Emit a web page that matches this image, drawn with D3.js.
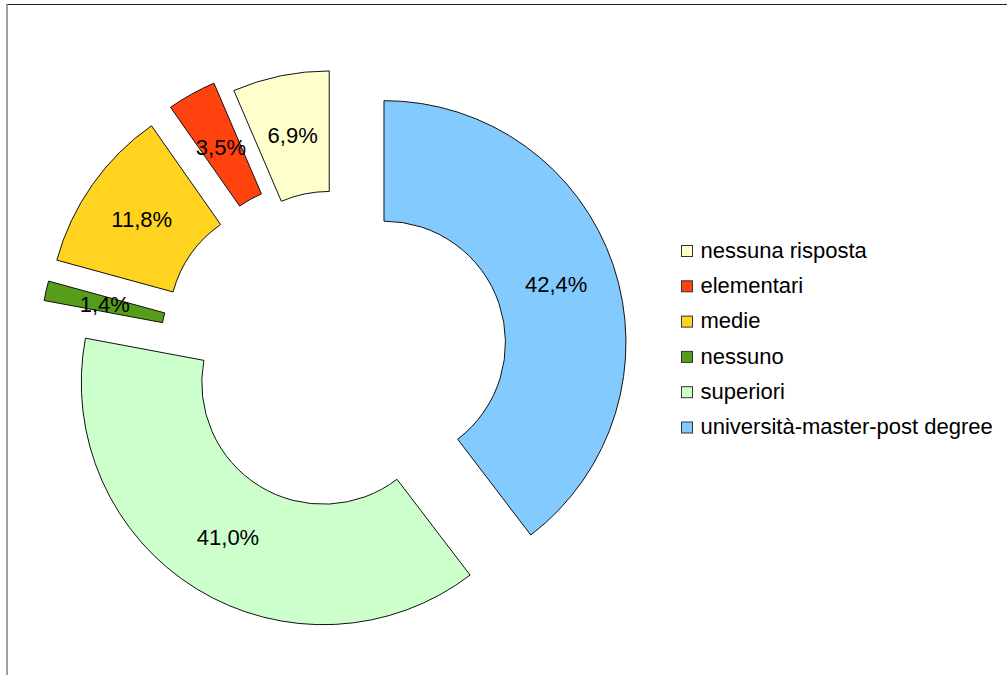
<!DOCTYPE html>
<html>
<head>
<meta charset="utf-8">
<script src="https://cdn.jsdelivr.net/npm/d3@7"></script>
<style>
  html, body { margin: 0; padding: 0; background: #fff; }
  svg { display: block; }
  text { font-family: "Liberation Sans", Arial, sans-serif; fill: #000; }
</style>
</head>
<body>
<svg id="chart" width="1007" height="675"></svg>
<script>
// ---- data ----
const categories = ["nessuna risposta", "elementari", "medie", "nessuno", "superiori", "università-master-post degree"];
const values = [6.9, 3.5, 11.8, 1.4, 41.0, 42.4];
const colors = ["#FFFFCC", "#FF420E", "#FFD320", "#579D1C", "#CCFFCC", "#83CAFF"];
// explode distance of each slice (px)
const explode = [46, 60, 59, 58, 29, 48];

const W = 1007, H = 675;
const cx = 338.5, cy = 358;
const innerR = 121.5, outerR = 242;

const svg = d3.select("#chart");

// frame
svg.append("line").attr("x1", 6).attr("x2", W).attr("y1", 4.5).attr("y2", 4.5)
  .attr("stroke", "#222").attr("stroke-width", 1.2);
svg.append("line").attr("x1", 7).attr("x2", 7).attr("y1", 4).attr("y2", H)
  .attr("stroke", "#888").attr("stroke-width", 1.6);

const pie = d3.pie().sort(null).value(d => d).startAngle(0).endAngle(-2 * Math.PI);
const arcs = pie(values);
const arc = d3.arc().innerRadius(innerR).outerRadius(outerR);

const g = svg.append("g").attr("transform", `translate(${cx},${cy})`);

function offset(d, i) {
  const mid = (d.startAngle + d.endAngle) / 2;
  return [explode[i] * Math.sin(mid), -explode[i] * Math.cos(mid)];
}

g.selectAll("path.slice").data(arcs).enter().append("path")
  .attr("class", "slice")
  .attr("transform", (d, i) => { const o = offset(d, i); return `translate(${o[0]},${o[1]})`; })
  .attr("d", arc)
  .attr("fill", (d, i) => colors[i])
  .attr("stroke", "#111")
  .attr("stroke-width", 1)
  .attr("stroke-linejoin", "miter");

const fmt = v => d3.format(".1f")(v).replace(".", ",") + "%";

g.selectAll("text.lbl").data(arcs).enter().append("text")
  .attr("class", "lbl")
  .attr("transform", (d, i) => {
    const o = offset(d, i); const c = arc.centroid(d);
    return `translate(${c[0] + o[0]},${c[1] + o[1]})`;
  })
  .attr("text-anchor", "middle")
  .attr("dy", "0.36em")
  .style("font-size", "22px")
  .text(d => fmt(d.value));

// legend
const legend = svg.append("g").attr("transform", "translate(681,245)");
const rowH = 35.3;
const items = legend.selectAll("g").data(categories).enter().append("g")
  .attr("transform", (d, i) => `translate(0,${i * rowH})`);
items.append("rect").attr("x", 0.5).attr("y", 0.5).attr("width", 11).attr("height", 11)
  .attr("fill", (d, i) => colors[i]).attr("stroke", "#333").attr("stroke-width", 1);
items.append("text").attr("x", 19.5).attr("y", 12.8)
  .style("font-size", "22px")
  .text(d => d);
</script>
</body>
</html>
